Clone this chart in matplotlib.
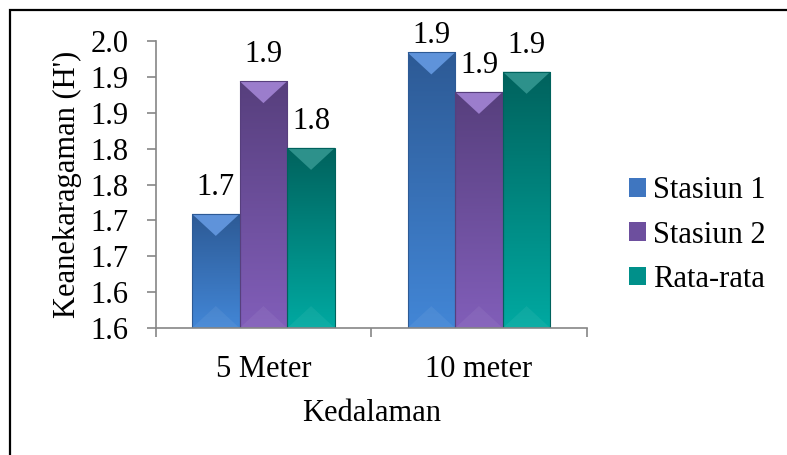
import numpy as np
import matplotlib
matplotlib.use('Agg')
import matplotlib.pyplot as plt
from matplotlib.patches import Polygon, Rectangle
from matplotlib.colors import LinearSegmentedColormap

categories = ['5 Meter', '10 meter']
series = ['Stasiun 1', 'Stasiun 2', 'Rata-rata']
stasiun1 = [1.709, 1.934]
stasiun2 = [1.894, 1.879]
rata_rata = [1.801, 1.907]
y_ticks = [1.55, 1.60, 1.65, 1.70, 1.75, 1.80, 1.85, 1.90, 1.95]
y_tick_labels = ['1.6', '1.6', '1.7', '1.7', '1.8', '1.8', '1.9', '1.9', '2.0']

# top colour, bottom colour, bevel highlight, legend colour
styles = [
    ('#2d5a95', '#4286d6', '#5f93da', '#3f76c0'),
    ('#573f7d', '#815eb9', '#9b7dcc', '#6d4f9e'),
    ('#00625d', '#00a9a1', '#2d918b', '#00908a'),
]

plt.rcParams['font.family'] = ['Liberation Serif', 'DejaVu Serif']
plt.rcParams['font.size'] = 22

fig = plt.figure(figsize=(7.87, 4.55), dpi=100)
ax = fig.add_axes([0.1978, 0.279, 0.5477, 0.631])

ymin, ymax = y_ticks[0], y_ticks[-1]
ax.set_xlim(-0.5, 1.5)
ax.set_ylim(ymin, ymax)

x = np.arange(len(categories))
w = 0.221
values = [stasiun1, stasiun2, rata_rata]

# data units per pixel, for the bevel
upp = (ymax - ymin) / (fig.get_figheight() * fig.dpi * 0.631)
bevel = 22 * upp

handles = []
for i, (vals, name) in enumerate(zip(values, series)):
    top_c, bot_c, hi_c, leg_c = styles[i]
    cmap = LinearSegmentedColormap.from_list('g%d' % i, [top_c, bot_c])
    bars = ax.bar(x + (i - 1) * w, np.array(vals) - ymin, bottom=ymin, width=w,
                  color=leg_c, edgecolor='none', zorder=2, label=name)
    for b in bars:
        x0, x1 = b.get_x(), b.get_x() + b.get_width()
        y0, y1 = b.get_y(), b.get_y() + b.get_height()
        grad = np.linspace(0, 1, 200).reshape(-1, 1)
        im = ax.imshow(grad, extent=[x0, x1, y0, y1], cmap=cmap, aspect='auto', zorder=2.1)
        im.set_clip_path(b)
        xm = (x0 + x1) / 2
        ax.add_patch(Polygon([[x0, y1], [x1, y1], [xm, y1 - bevel]], closed=True,
                             fc=hi_c, ec='none', zorder=2.2))
        ax.add_patch(Polygon([[x0, y0], [x1, y0], [xm, y0 + bevel]], closed=True,
                             fc='white', alpha=0.06, ec='none', zorder=2.2))
        ax.add_patch(Rectangle((x0, y0), x1 - x0, y1 - y0, fill=False,
                               ec=top_c, lw=0.8, zorder=2.3))
    handles.append(bars)

ax.set_xlim(-0.5, 1.5)
ax.set_ylim(ymin, ymax)

# data labels, kept inside the chart near the top
cap = ymax - 0.029
for i, vals in enumerate(values):
    for xi, v in zip(x, vals):
        ax.annotate('%.1f' % v, (xi + (i - 1) * w, min(v, cap)), xytext=(0, 13.7),
                    textcoords='offset points', ha='center', va='baseline',
                    fontsize=22, annotation_clip=False, zorder=3)

ax.set_yticks(y_ticks)
ax.set_yticklabels(y_tick_labels)
ax.set_xticks([-0.5, 0.5, 1.5])
ax.set_xticklabels([])
ax.set_xticks(x, minor=True)
ax.set_xticklabels(categories, minor=True)

gray = '#868686'
for s in ['top', 'right']:
    ax.spines[s].set_visible(False)
for s in ['left', 'bottom']:
    ax.spines[s].set_color(gray)
    ax.spines[s].set_linewidth(1.2)
ax.tick_params(axis='y', which='major', length=6.5, width=1.2, color=gray, pad=13, labelsize=22)
ax.tick_params(axis='x', which='major', length=6.5, width=1.2, color=gray)
ax.tick_params(axis='x', which='minor', length=0, pad=19.5, labelsize=22)

ax.set_ylabel("Keanekaragaman (H')", fontsize=22, labelpad=6)
ax.set_xlabel('Kedalaman', fontsize=22, labelpad=10.5)

leg = ax.legend(handles=handles, labels=series, loc='center left',
                bbox_to_anchor=(629 / 787, 1 - 235 / 455), bbox_transform=fig.transFigure,
                frameon=False, fontsize=22, handlelength=0.56, handleheight=0.56,
                handletextpad=0.22, labelspacing=0.5, borderpad=0, borderaxespad=0)

fig.add_artist(Rectangle((10 / 787, -0.1), 1.2, 1.078, fill=False, ec='black',
                         lw=1.6, transform=fig.transFigure))

fig.savefig('out.png', dpi=100)
